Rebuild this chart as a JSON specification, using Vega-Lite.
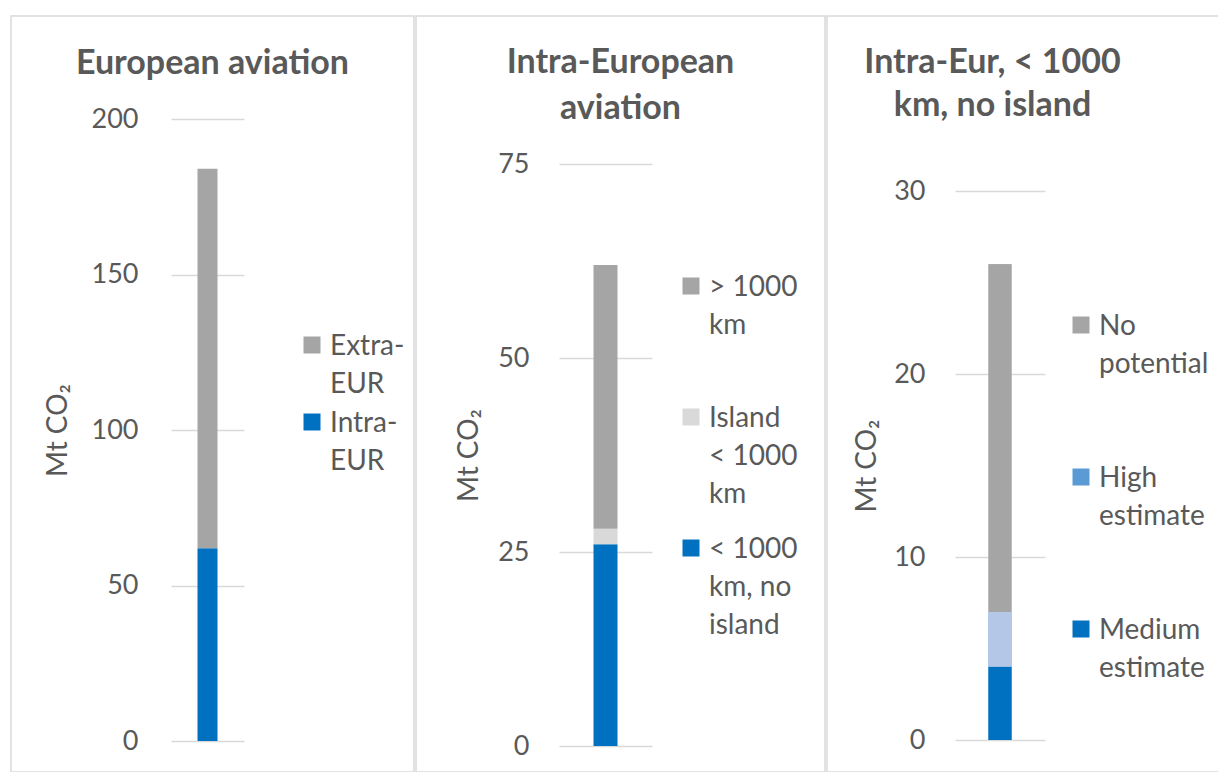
{
  "$schema": "https://vega.github.io/schema/vega-lite/v6.json",
  "padding": {"left": 10, "top": 15, "right": 0, "bottom": 0},
  "background": "white",
  "spacing": 0,
  "config": {
    "view": {"stroke": "#D9D9D9", "strokeWidth": 1.5},
    "font": "Lato",
    "axis": {"labelFont": "Lato", "labelFontSize": 27, "labelColor": "#595959", "titleFont": "Lato", "titleFontSize": 28, "titleColor": "#595959", "titleFontWeight": "normal", "gridColor": "#D9D9D9", "gridWidth": 1.5, "domain": false, "ticks": false, "labelPadding": 0},
    "legend": {"labelFont": "Lato", "labelFontSize": 28, "labelColor": "#595959", "symbolType": "square", "symbolSize": 289, "symbolStrokeWidth": 0, "labelOffset": 4, "padding": 0, "labelBaseline": "top", "labelLimit": 300},
    "title": {"font": "Lato", "fontSize": 34, "fontWeight": "bold", "color": "#595959", "anchor": "middle", "frame": "group"}
  },
  "datasets": {
    "eu": [
      {"chart": "European aviation", "segment": "Intra-EUR", "value": 62, "k": 1},
      {"chart": "European aviation", "segment": "Extra-EUR", "value": 122, "k": 2}
    ],
    "intra": [
      {"chart": "Intra-European aviation", "segment": "< 1000 km, no island", "value": 26, "k": 1},
      {"chart": "Intra-European aviation", "segment": "Island < 1000 km", "value": 2, "k": 2},
      {"chart": "Intra-European aviation", "segment": "> 1000 km", "value": 34, "k": 3}
    ],
    "short": [
      {"chart": "Intra-Eur, < 1000 km, no island", "segment": "Medium estimate", "value": 4, "k": 1},
      {"chart": "Intra-Eur, < 1000 km, no island", "segment": "High estimate", "value": 3, "k": 2},
      {"chart": "Intra-Eur, < 1000 km, no island", "segment": "No potential", "value": 19, "k": 3}
    ]
  },
  "resolve": {"scale": {"color": "independent", "fill": "independent", "y": "independent", "x": "independent"}, "legend": {"color": "independent", "fill": "independent"}},
  "hconcat": [
    {
      "width": 403, "height": 756,
      "title": {"text": "European aviation", "offset": -65},
      "data": {"name": "eu"},
      "mark": {"type": "bar", "width": 20},
      "encoding": {
        "x": {"field": "chart", "type": "nominal", "axis": null, "scale": {"range": [160, 233], "paddingInner": 0, "paddingOuter": 0}},
        "y": {"field": "value", "type": "quantitative", "stack": "zero", "scale": {"domain": [0, 200], "range": [725, 103], "nice": false}, "axis": {"values": [0, 50, 100, 150, 200], "offset": -127, "title": "Mt CO₂", "titleX": -80, "titleBaseline": "middle", "titleAlign": "center", "titleAngle": -90}},
        "color": {"field": "segment", "type": "nominal", "scale": {"domain": ["Extra-EUR", "Intra-EUR"], "range": ["#A5A5A5", "#0070C0"]}, "legend": {"title": null, "orient": "none", "legendX": 287, "legendY": 315, "rowPadding": 9, "labelExpr": "datum.label == 'Extra-EUR' ? ['Extra-', 'EUR'] : ['Intra-', 'EUR']", "encode": {"labels": {"update": {"lineHeight": {"value": 38}, "dy": {"value": -12}}}}}},
        "order": {"field": "k", "type": "quantitative"}
      }
    },
    {
      "width": 409, "height": 756,
      "title": {"text": ["Intra-European", "aviation"], "offset": -110, "lineHeight": 46},
      "data": {"name": "intra"},
      "mark": {"type": "bar", "width": 24},
      "encoding": {
        "x": {"field": "chart", "type": "nominal", "axis": null, "scale": {"range": [143, 236], "paddingInner": 0, "paddingOuter": 0}},
        "y": {"field": "value", "type": "quantitative", "stack": "zero", "scale": {"domain": [0, 75], "range": [730, 148], "nice": false}, "axis": {"values": [0, 25, 50, 75], "offset": -113, "title": "Mt CO₂", "titleX": -60, "titleBaseline": "middle", "titleAlign": "center", "titleAngle": -90}},
        "color": {"field": "segment", "type": "nominal", "scale": {"domain": ["> 1000 km", "Island < 1000 km", "< 1000 km, no island"], "range": ["#A5A5A5", "#D9D9D9", "#0070C0"]}, "legend": {"title": null, "orient": "none", "legendX": 261, "legendY": 256, "rowPadding": 25, "labelExpr": "datum.label == '> 1000 km' ? ['> 1000', 'km', ''] : datum.label == 'Island < 1000 km' ? ['Island', '< 1000', 'km'] : ['< 1000', 'km, no', 'island']", "encode": {"labels": {"update": {"lineHeight": {"value": 38}, "dy": {"value": -12}}}}}},
        "order": {"field": "k", "type": "quantitative"}
      }
    },
    {
      "width": 395, "height": 756,
      "title": {"text": ["Intra-Eur, < 1000", "km, no island"], "dx": -32, "offset": -107, "lineHeight": 43},
      "data": {"name": "short"},
      "encoding": {
        "x": {"field": "chart", "type": "nominal", "axis": null, "scale": {"range": [128, 218], "paddingInner": 0, "paddingOuter": 0}},
        "y": {"field": "value", "type": "quantitative", "stack": "zero", "scale": {"domain": [0, 30], "range": [724, 175], "nice": false}, "axis": {"values": [0, 10, 20, 30], "offset": -98, "title": "Mt CO₂", "titleX": -58, "titleBaseline": "middle", "titleAlign": "center", "titleAngle": -90}},
        "order": {"field": "k", "type": "quantitative"}
      },
      "layer": [
        {
          "mark": {"type": "bar", "width": 23},
          "encoding": {
            "color": {"field": "segment", "type": "nominal", "scale": {"domain": ["No potential", "High estimate", "Medium estimate"], "range": ["#A5A5A5", "#5B9BD5", "#0070C0"]}, "legend": {"title": null, "orient": "none", "legendX": 240, "legendY": 295, "rowPadding": 84, "labelExpr": "datum.label == 'No potential' ? ['No', 'potential'] : datum.label == 'High estimate' ? ['High', 'estimate'] : ['Medium', 'estimate']", "encode": {"labels": {"update": {"lineHeight": {"value": 38}, "dy": {"value": -12}}}}}}
          }
        },
        {
          "mark": {"type": "bar", "width": 23},
          "encoding": {
            "fill": {"field": "segment", "type": "nominal", "scale": {"domain": ["No potential", "High estimate", "Medium estimate"], "range": ["#A5A5A5", "#B4C7E7", "#0070C0"]}, "legend": null}
          }
        }
      ]
    }
  ]
}
